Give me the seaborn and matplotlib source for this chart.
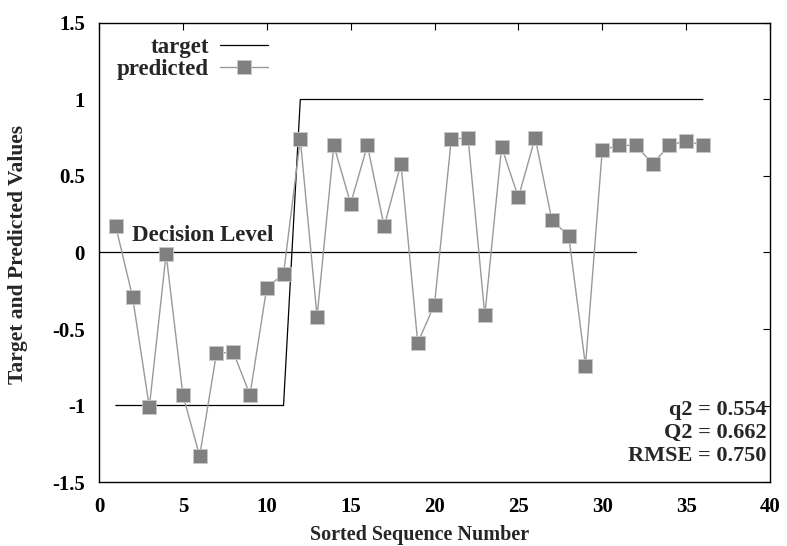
import numpy as np
import pandas as pd
import matplotlib
matplotlib.use("Agg")
import matplotlib.pyplot as plt
import seaborn as sns

# Sorted sequence numbers and their target / predicted values
seq = list(range(1, 37))
target = [-1] * 11 + [1] * 25
predicted = [0.17, -0.29, -1.01, -0.01, -0.93, -1.33, -0.66, -0.65, -0.93, -0.23,
             -0.14, 0.74, -0.42, 0.70, 0.32, 0.70, 0.17, 0.58, -0.59, -0.34,
             0.74, 0.75, -0.41, 0.69, 0.36, 0.75, 0.21, 0.11, -0.74, 0.67,
             0.70, 0.70, 0.58, 0.70, 0.73, 0.70]

decision_x = [0, 32]
decision_y = [0, 0]

stats_labels = ["q2", "Q2", "RMSE"]
stats_values = [0.554, 0.662, 0.750]

xticks = [0, 5, 10, 15, 20, 25, 30, 35, 40]
yticks = [-1.5, -1, -0.5, 0, 0.5, 1, 1.5]

df = pd.DataFrame({"seq": seq, "target": target, "predicted": predicted})

sns.set_theme(style="white")
plt.rcParams["font.family"] = ["Liberation Serif", "DejaVu Serif"]
plt.rcParams["font.weight"] = "bold"

fig = plt.figure(figsize=(7.87, 5.46), dpi=100)
ax = fig.add_axes([0.1258, 0.1172, 0.8526, 0.8407])

# Decision level line
ax.plot(decision_x, decision_y, color="black", lw=0.9)
ax.text(1.95, 0.045, "Decision Level", fontsize=16.5, fontweight="bold",
        ha="left", va="bottom")

# Target step line
sns.lineplot(data=df, x="seq", y="target", ax=ax, color="black", lw=0.9,
             label="target")

# Predicted values
sns.lineplot(data=df, x="seq", y="predicted", ax=ax, color="#999999", lw=1.0,
             marker="s", markersize=10, markerfacecolor="#808080",
             markeredgecolor="#c8c8c8", markeredgewidth=0.6,
             label="predicted")

ax.set_xlim(0, 40)
ax.set_ylim(-1.5, 1.5)
ax.set_xticks(xticks)
ax.set_xticklabels([f"{v:g}" for v in xticks])
ax.set_yticks(yticks)
ax.set_yticklabels([f"{v:g}" for v in yticks])
ax.tick_params(direction="in", length=5, width=0.8, top=True, right=True,
               labelsize=15, colors="black")
ax.tick_params(axis="x", pad=11)
ax.tick_params(axis="y", pad=10)
for t in ax.get_xticklabels() + ax.get_yticklabels():
    t.set_fontweight("bold")
for s in ax.spines.values():
    s.set_color("black")
    s.set_linewidth(1.0)

ax.set_xlabel("Sorted Sequence Number", fontsize=14.5, fontweight="bold")
ax.set_ylabel("Target and Predicted Values", fontsize=15.5, fontweight="bold")
ax.xaxis.set_label_coords(0.478, -0.094)
ax.yaxis.set_label_coords(-0.121, 0.495)
ax.yaxis.label.set_va("center")
ax.xaxis.label.set_va("top")

leg = ax.legend(loc="upper left", bbox_to_anchor=(0.013, 0.99), frameon=False,
                markerfirst=False, fontsize=16.5, handlelength=2.1,
                handletextpad=0.5, labelspacing=0.05, borderaxespad=0)
for t in leg.get_texts():
    t.set_fontweight("bold")

stats_text = "\n".join(f"{n} = {v:.3f}" for n, v in zip(stats_labels, stats_values))
ax.text(0.995, 0.179, stats_text, transform=ax.transAxes, ha="right", va="top",
        fontsize=16, fontweight="bold", linespacing=1.22)

fig.savefig("out.png", dpi=100)
